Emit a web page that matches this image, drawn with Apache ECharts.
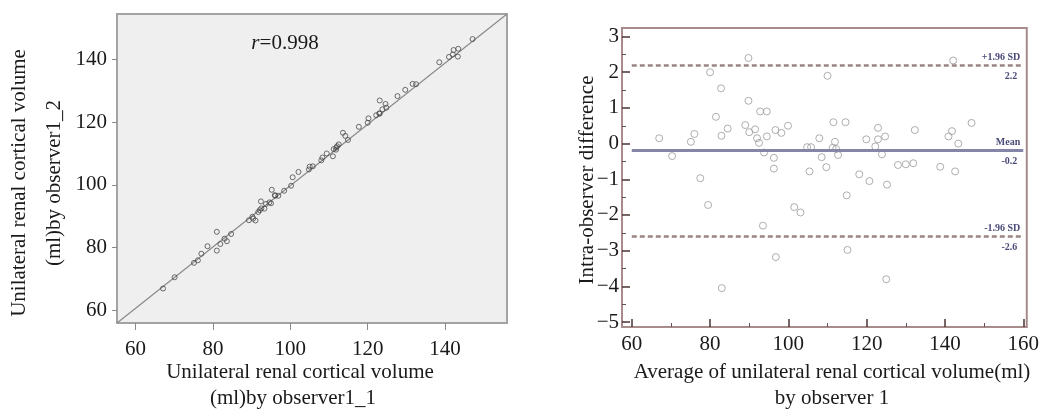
<!DOCTYPE html>
<html lang="en">
<head>
    <meta charset="UTF-8">
    <title>Renal cortical volume</title>
    <style>
        html, body { margin: 0; padding: 0; background: #fff; }
    </style>
</head>
<body>
<div id="main" style="width: 1042px;height:410px;"></div>
<script src="https://cdn.jsdelivr.net/npm/echarts@6/dist/echarts.min.js"></script>
<script>
    // left: observer1_1 vs observer1_2
    var obs1_1 = [67.1, 70.1, 75.1, 76.1, 77.0, 78.6, 81.0, 81.9, 83.6, 83.0, 81.0, 84.7, 89.3, 91.0, 90.4, 90.2, 91.7,
        92.1, 92.5, 93.3, 95.0, 92.4, 93.7, 94.6, 96.1, 96.0, 96.9, 95.2, 98.4, 100.2, 100.6, 102.1, 104.8, 105.8,
        105.0, 108.0, 108.3, 109.4, 111.0, 111.8, 111.9, 111.2, 112.1, 112.5, 114.9, 114.2, 113.6, 117.7, 120.0,
        120.2, 122.2, 123.1, 123.0, 123.8, 124.8, 124.6, 123.1, 127.7, 129.7, 131.6, 132.5, 138.5, 141.0, 142.0,
        143.3, 142.2, 143.4, 147.1];
    var obs1_2 = [66.9, 70.5, 75.1, 75.9, 78.0, 80.4, 79.0, 81.1, 82.0, 82.8, 85.0, 84.3, 88.7, 88.6, 89.2, 89.8, 91.3,
        91.9, 92.5, 92.4, 94.1, 94.7, 93.9, 94.4, 96.5, 96.7, 96.5, 98.4, 98.1, 99.7, 102.4, 104.1, 104.9, 105.9,
        105.8, 107.8, 108.7, 110.0, 109.1, 111.2, 111.9, 111.4, 112.3, 112.9, 114.3, 115.6, 116.6, 118.5, 119.8,
        121.2, 122.2, 122.7, 122.8, 124.1, 124.6, 125.8, 126.9, 128.3, 130.3, 132.2, 132.1, 139.1, 140.8, 141.6,
        140.9, 143.0, 143.4, 146.5];
    var diagLine = [[55.2, 55.9], [156, 154.5]];
    var leftTicks = [60, 80, 100, 120, 140];

    // right: Bland-Altman
    var avgVol = [67.0, 70.3, 75.1, 76.0, 77.5, 79.5, 80.0, 81.5, 82.8, 82.9, 83.0, 84.5, 89.0, 89.8, 89.8, 90.0, 91.5,
        92.0, 92.5, 92.8, 94.5, 93.5, 93.8, 94.5, 96.3, 96.3, 96.7, 96.8, 98.2, 99.9, 101.5, 103.1, 104.8, 105.8,
        105.4, 107.9, 108.5, 109.7, 110.0, 111.5, 111.9, 111.3, 112.2, 112.7, 114.6, 114.9, 115.1, 118.1, 119.9,
        120.7, 122.2, 122.9, 122.9, 123.9, 124.7, 125.2, 125.0, 128.0, 130.0, 131.9, 132.3, 138.8, 140.9, 141.8,
        142.1, 142.6, 143.4, 146.8];
    var diffVol = [0.15, -0.35, 0.05, 0.27, -0.97, -1.72, 2.0, 0.75, 1.55, 0.22, -4.05, 0.42, 0.52, 2.4, 1.2, 0.32, 0.4,
        0.15, 0.02, 0.9, 0.9, -2.3, -0.25, 0.2, -0.4, -0.7, 0.38, -3.18, 0.3, 0.5, -1.78, -1.93, -0.1, -0.1,
        -0.78, 0.15, -0.38, -0.66, 1.9, 0.6, 0.05, -0.12, -0.15, -0.32, 0.6, -1.45, -2.98, -0.86, 0.12,
        -1.05, -0.08, 0.44, 0.12, -0.3, 0.2, -1.15, -3.8, -0.6, -0.58, -0.55, 0.38, -0.65, 0.2, 0.35,
        2.33, -0.78, 0.0, 0.58];
    var meanDiff = -0.2, upperLoA = 2.2, lowerLoA = -2.6;
    var rightXTicks = [60, 80, 100, 120, 140, 160];
    var rightXMinor = [70, 90, 110, 130, 150];
    var rightYTicks = [-5, -4, -3, -2, -1, 0, 1, 2, 3];
    var rightYMinor = [-4.5, -3.5, -2.5, -1.5, -0.5, 0.5, 1.5, 2.5];

    var serif = 'Liberation Serif';
    var myChart = echarts.init(document.getElementById('main'));

    var leftData = obs1_1.map(function (v, i) { return [v, obs1_2[i]]; });
    var rightData = avgVol.map(function (v, i) { return [v, diffVol[i]]; });

    // limit line: label above the line and the value under it
    function refLine(val, top, bottom, style) {
        return [
            [{coord: [60, val], lineStyle: style,
                label: {show: true, position: 'insideEndTop', formatter: top, distance: 3}},
             {coord: [160, val]}],
            [{coord: [60, val + 0.001], lineStyle: {color: 'rgba(0,0,0,0)', width: 1, type: 'solid'},
                label: {show: true, position: 'insideEndBottom', formatter: bottom, distance: 6}},
             {coord: [160, val + 0.001]}]
        ];
    }
    var dashStyle = {type: [5, 3], color: '#9c8585', width: 2.5};
    var meanStyle = {type: 'solid', color: '#8585a8', width: 3};
    var tickDark = '#4a3535';

    var option = {
        backgroundColor: '#fff',
        animation: false,
        grid: [
            {left: 117, top: 14, width: 390, height: 309, containLabel: false,
                show: true, backgroundColor: '#efefef', borderColor: '#a3a3a3', borderWidth: 2},
            {left: 622, top: 28, width: 410, height: 299, containLabel: false,
                show: true, backgroundColor: '#fff', borderColor: '#a88c8c', borderWidth: 2}
        ],
        xAxis: [
            {gridIndex: 0, type: 'value', min: 55.2, max: 156, position: 'bottom',
                axisLine: {show: false, onZero: false}, splitLine: {show: false},
                axisTick: {show: true, inside: false, length: 7, customValues: leftTicks,
                    lineStyle: {color: '#888'}},
                axisLabel: {customValues: leftTicks, margin: 16, color: '#1a1a1a', fontSize: 21, fontFamily: serif}},
            {gridIndex: 1, type: 'value', min: 57.5, max: 160.9, position: 'bottom',
                axisLine: {show: false, onZero: false}, splitLine: {show: false},
                axisTick: {show: true, inside: true, length: 8, customValues: rightXTicks,
                    lineStyle: {color: tickDark, width: 1.5}},
                axisLabel: {customValues: rightXTicks, margin: 7, color: '#1a1a1a', fontSize: 21, fontFamily: serif}},
            {gridIndex: 1, type: 'value', min: 57.5, max: 160.9, position: 'bottom',
                axisLine: {show: false, onZero: false}, splitLine: {show: false},
                axisTick: {show: true, inside: true, length: 4, customValues: rightXMinor,
                    lineStyle: {color: '#6b5050'}},
                axisLabel: {show: false}}
        ],
        yAxis: [
            {gridIndex: 0, type: 'value', min: 55.9, max: 154.5, position: 'left',
                axisLine: {show: false, onZero: false}, splitLine: {show: false},
                axisTick: {show: true, inside: false, length: 5, customValues: leftTicks,
                    lineStyle: {color: '#888'}},
                axisLabel: {customValues: leftTicks, margin: 10, color: '#1a1a1a', fontSize: 21, fontFamily: serif}},
            {gridIndex: 1, type: 'value', min: -5.14, max: 3.24, position: 'left',
                axisLine: {show: false, onZero: false}, splitLine: {show: false},
                axisTick: {show: true, inside: true, length: 8, customValues: rightYTicks,
                    lineStyle: {color: tickDark, width: 1.5}},
                axisLabel: {customValues: rightYTicks, margin: 3, color: '#1a1a1a', fontSize: 21, fontFamily: serif,
                    formatter: function (v) { return v < 0 ? '\u2212' + Math.abs(v) : String(v); }}},
            {gridIndex: 1, type: 'value', min: -5.14, max: 3.24, position: 'left',
                axisLine: {show: false, onZero: false}, splitLine: {show: false},
                axisTick: {show: true, inside: true, length: 4, customValues: rightYMinor,
                    lineStyle: {color: '#6b5050'}},
                axisLabel: {show: false}}
        ],
        series: [
            {
                type: 'line', xAxisIndex: 0, yAxisIndex: 0, data: diagLine,
                symbol: 'none', silent: true, z: 1,
                lineStyle: {color: '#8a8a8a', width: 1.2}
            },
            {
                type: 'scatter', xAxisIndex: 0, yAxisIndex: 0, data: leftData,
                symbol: 'circle', symbolSize: 5, z: 2,
                itemStyle: {color: 'rgba(0,0,0,0)', borderColor: '#4a4a4a', borderWidth: 1}
            },
            {
                type: 'scatter', xAxisIndex: 1, yAxisIndex: 1, data: rightData,
                symbol: 'circle', symbolSize: 7, z: 3,
                itemStyle: {color: 'rgba(0,0,0,0)', borderColor: '#9a9a9a', borderWidth: 1},
                markLine: {
                    symbol: 'none', silent: true, animation: false,
                    label: {color: '#4a4a78', fontSize: 10, fontWeight: 'bold', fontFamily: serif},
                    data: refLine(upperLoA, '+1.96 SD', String(upperLoA), dashStyle)
                        .concat(refLine(meanDiff, 'Mean', String(meanDiff), meanStyle))
                        .concat(refLine(lowerLoA, '-1.96 SD', String(lowerLoA), dashStyle))
                }
            }
        ],
        graphic: [
            {type: 'text', x: 37, y: 183, rotation: Math.PI / 2,
                style: {text: 'Unilateral renal cortical volume\n(ml)by observer1_2', align: 'center',
                    verticalAlign: 'middle', lineHeight: 35, fontSize: 21, fontFamily: serif, fill: '#1a1a1a'}},
            {type: 'text', x: 300, y: 372,
                style: {text: 'Unilateral renal cortical volume', align: 'center', verticalAlign: 'middle',
                    fontSize: 21, fontFamily: serif, fill: '#1a1a1a'}},
            {type: 'text', x: 293, y: 398,
                style: {text: '(ml)by observer1_1', align: 'center', verticalAlign: 'middle',
                    fontSize: 21, fontFamily: serif, fill: '#1a1a1a'}},
            {type: 'text', x: 285, y: 43,
                style: {text: '{i|r}=0.998', align: 'center', verticalAlign: 'middle',
                    fontSize: 21, fontFamily: serif, fill: '#1a1a1a',
                    rich: {i: {fontStyle: 'italic', fontSize: 21, fontFamily: serif, fill: '#1a1a1a'}}}},
            {type: 'text', x: 587, y: 180, rotation: Math.PI / 2,
                style: {text: 'Intra-observer difference', align: 'center', verticalAlign: 'middle',
                    fontSize: 21, fontFamily: serif, fill: '#1a1a1a'}},
            {type: 'text', x: 832, y: 372,
                style: {text: 'Average of unilateral renal cortical volume(ml)', align: 'center',
                    verticalAlign: 'middle', fontSize: 21, fontFamily: serif, fill: '#1a1a1a'}},
            {type: 'text', x: 832, y: 398,
                style: {text: 'by observer 1', align: 'center', verticalAlign: 'middle',
                    fontSize: 21, fontFamily: serif, fill: '#1a1a1a'}}
        ]
    };

    myChart.setOption(option);
</script>
</body>
</html>
